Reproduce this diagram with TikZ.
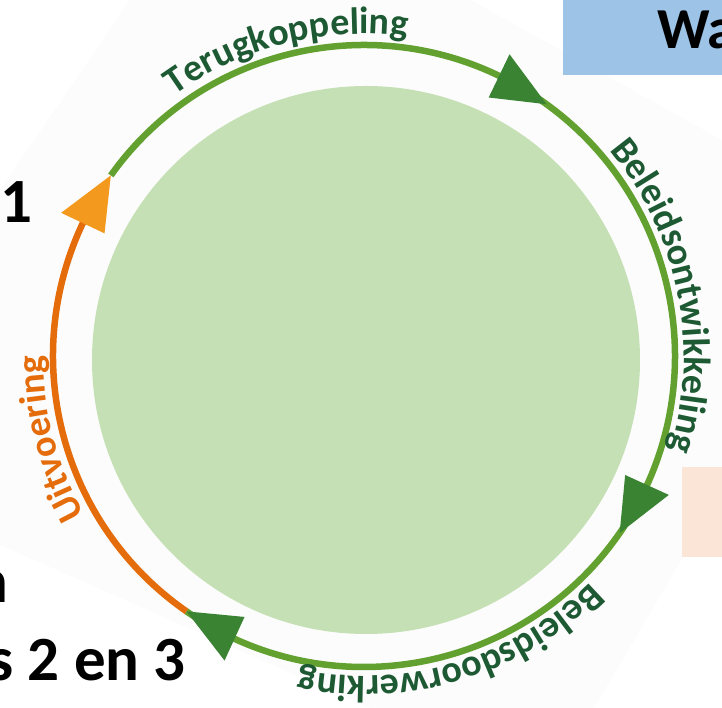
\documentclass[tikz,border=0pt]{standalone}
\usepackage{fontspec}
\setmainfont{Carlito}
\usetikzlibrary{decorations.text}
\definecolor{ringgreen}{HTML}{62A030}
\definecolor{headgreen}{HTML}{3A8332}
\definecolor{ringorange}{HTML}{E46C0A}
\definecolor{headorange}{HTML}{F39A1E}
\definecolor{txtgreen}{HTML}{1D5A33}
\definecolor{discgreen}{HTML}{C5E0B4}
\definecolor{boxblue}{HTML}{9DC3E6}
\definecolor{boxpeach}{HTML}{FBE5D6}
\definecolor{faintgrey}{HTML}{FCFCFC}
\newcommand\arcfont{\fontsize{38}{42}\selectfont\bfseries}
\newcommand\bigfont{\fontsize{63}{70}\selectfont\bfseries}
\newcommand\arrowheadat[2]{\fill[#2] (#1:311) -- ({#1+10.2}:335) -- ({#1+10.2}:287) -- cycle;}
\begin{document}
\begin{tikzpicture}[x=1pt,y=1pt,
  ring/.style={line width=6.5pt},
  arclabel/.style={decorate, decoration={text along path, text align=left}},
  bigtext/.style={font=\bigfont, text=black, inner sep=0pt, anchor=base east}
]
\useasboundingbox (-364,-352) rectangle (358,356);
% faint background
\fill[faintgrey] (-234,356) -- (107,356) -- (358,216) -- (358,-136) -- (230,-352) -- (6,-352) -- (-364,-189) -- (-364,166) -- cycle;
% disc
\fill[discgreen] (2,-4) circle[radius=274];
% ring
\draw[ring, ringgreen] (144.5:311) arc[start angle=144.5, end angle=-124.8, radius=311];
\draw[ring, ringorange] (235.2:311) arc[start angle=235.2, end angle=154, radius=311];
% arrowheads
\arrowheadat{144.5}{headorange}
\arrowheadat{54.05}{headgreen}
\arrowheadat{-34.7}{headgreen}
\arrowheadat{235.2}{headgreen}
% arc labels
\path[arclabel, decoration={text={|\arcfont|Terugkoppeling}, text color=txtgreen}]
  (126:322) arc[start angle=126, end angle=40, radius=322];
\path[arclabel, decoration={text={|\arcfont|Beleidsontwikkeling}, text color=txtgreen}]
  (40:320) arc[start angle=40, end angle=-40, radius=320];
\path[arclabel, decoration={text={|\arcfont|Beleidsdoorwerking}, text color=txtgreen}]
  (-45:320) arc[start angle=-45, end angle=-125, radius=320];
\path[arclabel, decoration={text={|\arcfont|Uitvoering}, text color=ringorange}]
  (209.5:321) arc[start angle=209.5, end angle=160, radius=321];
% boxes at right
\fill[boxblue] (199,356) rectangle (358,281);
\node[font=\fontsize{58}{64}\selectfont\bfseries, inner sep=0pt, anchor=base west] (wa) at (293,307) {Wa};
\fill[boxpeach] (318,-111) rectangle (358,-201);
% left texts
\node[bigtext] (one) at (-331,133) {1};
\node[bigtext] (nn) at (-355,-246) {n};
\node[bigtext] (s23) at (-178,-324) {s 2 en 3};
\end{tikzpicture}
\end{document}
